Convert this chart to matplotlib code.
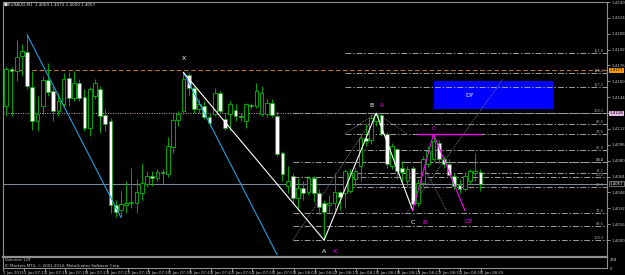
import numpy as np
import matplotlib.pyplot as plt
from matplotlib.patches import Rectangle
from matplotlib.transforms import blended_transform_factory

# quotes are kept in points above 1.4000 (1 point = 0.0001)
BASE = 1.4000
open_pts = [144, 135, 172, 170, 186, 190, 154, 120, 135, 161, 150, 130, 137, 163, 143, 158,
            144, 113, 145, 152, 126, 120, 35, 30, 35, 37, 37, 47, 57, 65, 63, 69,
            67, 94, 121, 130, 166, 153, 132, 135, 124, 127, 148, 122, 127, 131, 125, 120,
            136, 135, 127, 127, 138, 125, 88, 55, 65, 42, 53, 48, 63, 47,
            37, 35, 37, 48, 47, 50, 62, 75, 103, 101, 120, 126, 107, 75, 92, 73,
            60, 73, 37, 58, 77, 82, 98, 82, 77, 65, 56, 52, 60, 68, 69]
high_pts = [152, 174, 174, 202, 198, 207, 170, 145, 165, 179, 155, 148, 168, 169, 170, 162,
            152, 154, 162, 155, 132, 123, 40, 50, 60, 73, 62, 78, 70, 70, 72, 72,
            104, 128, 130, 169, 168, 155, 142, 140, 128, 153, 150, 128, 140, 137, 128, 138,
            138, 158, 155, 142, 142, 130, 90, 75, 68, 63, 60, 65, 65, 52,
            40, 45, 68, 50, 72, 72, 74, 107, 117, 127, 128, 128, 109, 98, 93, 80,
            75, 75, 62, 85, 95, 107, 101, 85, 82, 68, 62, 68, 72, 88, 72]
low_pts = [130, 125, 125, 160, 165, 152, 111, 110, 127, 145, 120, 125, 134, 135, 140, 140,
           110, 105, 142, 108, 110, 27, 23, 23, 27, 32, 27, 40, 54, 55, 60, 57,
           64, 88, 115, 127, 145, 128, 128, 122, 115, 125, 128, 111, 110, 120, 120, 113,
           132, 133, 125, 124, 124, 85, 60, 47, 37, 30, 40, 45, 38, 28,
           0, 27, 30, 30, 32, 47, 55, 60, 95, 97, 115, 105, 73, 72, 62, 60,
           55, 30, 34, 55, 74, 80, 78, 73, 65, 52, 47, 50, 57, 60, 50]
close_pts = [137, 172, 170, 185, 191, 155, 120, 127, 161, 149, 130, 140, 162, 143, 158, 143,
             113, 152, 158, 125, 117, 35, 28, 36, 37, 38, 48, 58, 65, 63, 69, 68,
             95, 121, 127, 162, 153, 132, 137, 124, 118, 148, 130, 113, 137, 125, 124, 137,
             135, 150, 148, 138, 126, 87, 67, 60, 42, 53, 47, 63, 47, 33,
             28, 37, 48, 43, 70, 68, 70, 103, 100, 123, 126, 107, 77, 95, 70, 69,
             72, 36, 58, 82, 90, 100, 82, 77, 66, 55, 52, 65, 70, 70, 57]

open_ = BASE + np.array(open_pts) / 10000
high = BASE + np.array(high_pts) / 10000
low = BASE + np.array(low_pts) / 10000
close = BASE + np.array(close_pts) / 10000

# pattern pivots (bar index)
xabcd_bars = [35, 62, 72, 79]          # X high, A low, B high, C low
channel_bars = [5, 23]                 # first blue line: high -> low
channel_end = 53                       # parallel line drawn from X to here
c2_bar, d_bar = 83, 89                 # magenta C peak and projected D?
fib_bc = [0.236, 0.382, 0.5, 0.618, 0.786, 0.886, 1.0, 1.272, 1.414, 1.618]
fib_ab = [0.0, 0.382, 0.5, 0.786, 0.886, 1.0]
fib_bc_start, fib_ab_start = 66, 56
orange_level = 1.4171
dzone_bars = (83.1, 106.1)
dzone_prices = (1.4132, 1.4160)
diag_lines = [([56, 72], [1.4000, 1.4128]),
              ([66, 72, 78], [1.4107, 1.4128, 1.4107]),
              ([78, 96.3], [1.4028, 1.4162]),
              ([81.5, 85.5], [1.4070, 1.4030])]
time_ticks = list(range(0, 93, 4))
time_labels = ["2 Jan 2015", "2 Jan 07:11", "2 Jan 07:15", "2 Jan 07:19", "2 Jan 07:23",
               "2 Jan 07:27", "2 Jan 07:31", "2 Jan 07:35", "2 Jan 07:39", "2 Jan 07:43",
               "2 Jan 07:47", "2 Jan 07:51", "2 Jan 07:55", "2 Jan 07:59", "2 Jan 08:03",
               "2 Jan 08:07", "2 Jan 08:11", "2 Jan 08:15", "2 Jan 08:19", "2 Jan 08:23",
               "2 Jan 08:27", "2 Jan 08:31", "2 Jan 08:35", "2 Jan 08:39"]

GREEN = '#00A800'
BLUE = '#1E9FE0'
MAG = '#FF00FF'
GRAY = '#A0A0A0'
W, H = 625, 275
PX_BAR, X0 = 5.21, 1.1

fig = plt.figure(figsize=(W / 100, H / 100), dpi=100, facecolor='black')
ax = fig.add_axes([3 / W, 1 - 255 / H, 604 / W, 253 / H], facecolor='black')
xlim = ((3 - X0) / PX_BAR, (607 - X0) / PX_BAR)
ax.set_xlim(*xlim)
ax.set_ylim(1.3985, 1.4238)

bars = np.arange(len(open_))
up = close >= open_
body_lo = np.minimum(open_, close)
body_h = np.maximum(np.abs(close - open_), 0.00004)

# candles
ax.vlines(bars, low, high, color=GREEN, lw=0.7, zorder=3)
ax.bar(bars[up], body_h[up], bottom=body_lo[up], width=0.72, color='black',
       edgecolor=GREEN, linewidth=0.7, zorder=4)
ax.bar(bars[~up], body_h[~up], bottom=body_lo[~up], width=0.72, color='white',
       edgecolor=GREEN, linewidth=0.5, zorder=4)

# D? zone
ax.add_patch(Rectangle((dzone_bars[0], dzone_prices[0]), dzone_bars[1] - dzone_bars[0],
                       dzone_prices[1] - dzone_prices[0], facecolor='#0000FF',
                       edgecolor='none', zorder=0.5))

# horizontal levels
ax.axhline(orange_level, color='#C07828', lw=0.8, dashes=(4, 2.5), zorder=1)
Xp, Ap, Bp, Cp = high[35], low[62], high[72], low[79]
ax.axhline(Bp, color='#D0A0D0', lw=0.7, dashes=(1, 1.5), zorder=1)
ax.axhline(close[-1], color='#8090A0', lw=0.7, zorder=1)

for r in fib_bc:
    lvl = Cp + r * (Bp - Cp)
    ax.plot([fib_bc_start, xlim[1]], [lvl, lvl], color=GRAY, lw=0.7,
            dashes=(6, 2, 1.5, 2), zorder=1)
    ax.text(115.7, lvl, f"{r * 100:.1f}", ha='right', va='bottom', fontsize=2.6,
            color=GRAY, zorder=2)
for r in fib_ab:
    lvl = Bp - r * (Bp - Ap)
    ax.plot([fib_ab_start, xlim[1]], [lvl, lvl], color=GRAY, lw=0.7,
            dashes=(6, 2, 1.5, 2), zorder=1)
    if r > 0:  # the 0 level sits on the B-C 100 line
        ax.text(115.7, lvl, f"{r * 100:.1f}", ha='right', va='bottom', fontsize=2.6,
                color=GRAY, zorder=2)

for xs, ys in diag_lines:
    ax.plot(xs, ys, color='#909090', lw=0.6, dashes=(1, 1.2), zorder=2)

# blue channel
b0, b1 = channel_bars
slope = (low[b1] - high[b0]) / (b1 - b0)
ax.plot([b0, b1], [high[b0], low[b1]], color=BLUE, lw=0.8, zorder=5)
ax.plot([35, channel_end], [Xp, Xp + slope * (channel_end - 35)], color=BLUE, lw=0.8, zorder=5)

# white XABC
ax.plot(xabcd_bars, [Xp, Ap, Bp, Cp], color='white', lw=0.8, zorder=5)

# magenta ABCD
Cm = high[c2_bar]
ax.plot([79, c2_bar, d_bar], [Cp, Cm, Cp], color=MAG, lw=0.8, zorder=5)
ax.plot([80, 92], [Cm, Cm], color=MAG, lw=1.0, zorder=5)

lab = dict(fontsize=4.5, ha='center', va='center', zorder=6)
ax.text(35, Xp + 0.0014, "X", color='white', **lab)
ax.text(71, Bp + 0.0008, "B", color='white', **lab)
ax.text(73.1, Bp + 0.0008, "A", color=MAG, **lab)
ax.text(62, Ap - 0.0011, "A", color='white', **lab)
ax.text(64.1, Ap - 0.0011, "X", color=MAG, **lab)
ax.text(79, Cp - 0.0012, "C", color='white', **lab)
ax.text(81.2, Cp - 0.0012, "B", color=MAG, **lab)
ax.text(83.1, Cm + 0.0006, "C", color=MAG, **lab)
ax.text(89.8, Cp - 0.0011, "D?", color=MAG, **lab)
ax.text(90, np.mean(dzone_prices), "D?", color='white', **lab)

# price axis; the tick under the pink B box keeps no label
ax.yaxis.tick_right()
yt = BASE + np.arange(16) * 0.0016
ax.set_yticks(yt)
ax.set_yticklabels(["" if abs(v - Bp) < 0.0004 else f"{v:.4f}" for v in yt])
ax.tick_params(axis='y', colors='#C8C8C8', labelsize=2.8, length=2, width=0.5, pad=1)
ax.set_xticks([])
for s in ['left', 'top', 'right']:
    ax.spines[s].set_color('#909090')
    ax.spines[s].set_linewidth(0.8)
ax.spines['bottom'].set_visible(False)

trans = blended_transform_factory(ax.transAxes, ax.transData)
box = dict(fontsize=2.8, va='center', ha='left', transform=trans, clip_on=False, zorder=7)
ax.text(1.004, orange_level, f"{orange_level:.4f}", color='black',
        bbox=dict(boxstyle='square,pad=0.15', fc='#FF9900', ec='none'), **box)
ax.text(1.004, Bp, f"{Bp:.4f}", color='black',
        bbox=dict(boxstyle='square,pad=0.15', fc='#E8B8E8', ec='none'), **box)
ax.text(1.004, close[-1], f"{close[-1]:.4f}", color='white',
        bbox=dict(boxstyle='square,pad=0.15', fc='black', ec='#C0C0C0', lw=0.4), **box)

fig.text(4 / W, 1 - 5 / H,
         f"\u25a0EURAUD,M1  {open_[-1]:.4f} {high[-1]:.4f} {low[-1]:.4f} {close[-1]:.4f}",
         fontsize=3, color='#E0E0E0', va='center')

# volume window
vax = fig.add_axes([3 / W, 1 - 268 / H, 604 / W, 11 / H], facecolor='black')
vax.set_xlim(*xlim)
vax.set_ylim(0, 320)
vax.yaxis.tick_right()
vax.set_yticks([0, 258])
vax.set_yticklabels(['0', '258'])
vax.tick_params(axis='y', colors='#C8C8C8', labelsize=2.8, length=0, pad=2)
vax.set_xticks(time_ticks)
vax.set_xticklabels(time_labels, ha='left', fontsize=2.8, color='#C8C8C8')
vax.tick_params(axis='x', colors='#C8C8C8', length=2, width=0.5, pad=0.5)
vax.spines['top'].set_color('#909090')
vax.spines['top'].set_linewidth(1.6)
for s in ['left', 'right', 'bottom']:
    vax.spines[s].set_color('#909090')
    vax.spines[s].set_linewidth(0.8)
vax.text(0.003, 0.72, "Volumes 129", transform=vax.transAxes, fontsize=2.8,
         color='#D0D0D0', va='center')
vax.text(0.003, 0.2, "IC Markets MT4, \u00a9 2001-2014, MetaQuotes Software Corp.",
         transform=vax.transAxes, fontsize=2.8, color='#D0D0D0', va='center')

fig.savefig('out.png', dpi=100, facecolor='black')
